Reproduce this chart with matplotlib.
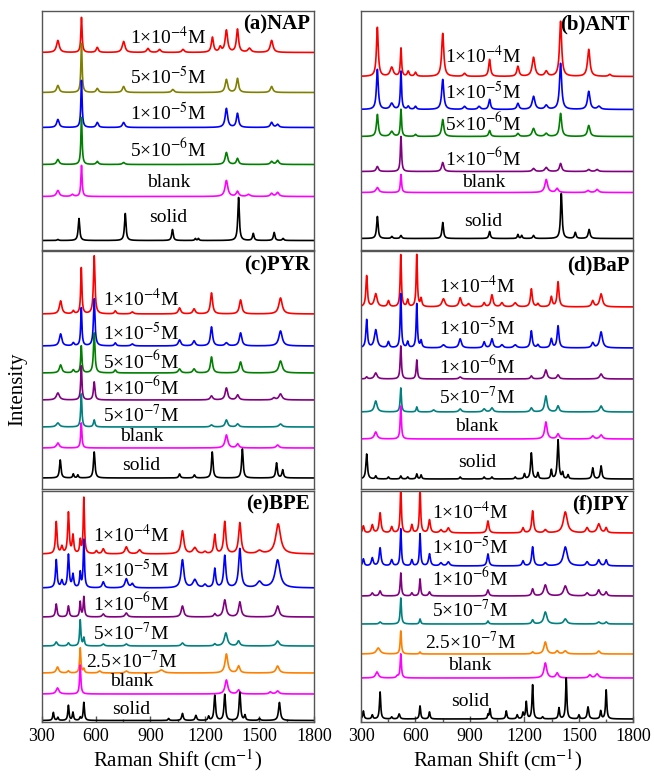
import numpy as np
import matplotlib
matplotlib.use('Agg')
import matplotlib.pyplot as plt

plt.rcParams['font.family'] = ['Liberation Serif', 'DejaVu Serif']
plt.rcParams['mathtext.fontset'] = 'stix'

# peak lists: (Raman shift, height, half width)
# heights/offsets are in pixel units of each panel

# (a) NAP
nap_labels = ['1×10$^{-4}$M', '5×10$^{-5}$M', '1×10$^{-5}$M', '5×10$^{-6}$M', 'blank', 'solid']
nap_colors = ['#ff0000', '#808000', '#0000ff', '#008000', '#ff00ff', '#000000']
nap_offsets = [197, 157, 122, 85, 53, 9]
nap_label_y = [212, 172, 136, 100, 67, 32]
nap_peaks = [
    [(390, 12, 9), (520, 35, 4), (607, 5, 7), (752, 11, 9), (886, 4, 8), (950, 3, 8), (1079, 3, 8),
     (1241, 15, 7), (1284, 5, 7), (1318, 22, 8), (1379, 23, 7), (1445, 4, 10), (1567, 12, 9)],
    [(390, 7, 8), (520, 49, 4), (607, 4, 7), (752, 6, 8), (1023, 3, 8), (1318, 13, 8), (1379, 14, 7),
     (1567, 6, 8)],
    [(390, 8, 8), (520, 47, 4), (607, 5, 7), (752, 5, 8), (1318, 19, 8), (1379, 14, 7), (1567, 5, 8),
     (1600, 3, 8)],
    [(390, 5, 8), (520, 47, 4), (607, 3, 7), (752, 2, 8), (1318, 12, 8), (1379, 6, 7), (1567, 3, 8),
     (1600, 4, 8)],
    [(390, 6, 9), (470, 2, 8), (520, 31, 4), (1318, 16, 9), (1379, 5, 8), (1440, 2, 10), (1567, 3, 8),
     (1600, 4, 9)],
    [(390, 1, 5), (506, 22, 5), (761, 27, 5), (1021, 11, 5), (1147, 2, 4), (1164, 2, 4), (1385, 43, 5),
     (1466, 7, 5), (1581, 8, 5), (1630, 2, 5)],
]

# (b) ANT
ant_labels = ['1×10$^{-4}$M', '1×10$^{-5}$M', '5×10$^{-6}$M', '1×10$^{-6}$M', 'blank', 'solid']
ant_colors = ['#ff0000', '#0000ff', '#008000', '#800080', '#ff00ff', '#000000']
ant_offsets = [173, 140, 113, 78, 57, 11]
ant_label_y = [193, 157, 126, 91, 67, 28]
ant_peaks = [
    [(390, 49, 6), (469, 9, 10), (520, 28, 4), (560, 5, 6), (600, 4, 6), (750, 43, 7), (870, 3, 8),
     (1008, 17, 6), (1164, 10, 7), (1250, 19, 9), (1320, 5, 9), (1399, 55, 7), (1554, 27, 8), (1670, 2, 8)],
    [(390, 40, 6), (469, 6, 10), (520, 38, 4), (560, 3, 6), (600, 3, 6), (750, 30, 7), (870, 3, 8),
     (950, 3, 8), (1008, 10, 6), (1164, 6, 7), (1250, 13, 9), (1320, 4, 9), (1399, 46, 7), (1554, 18, 8),
     (1610, 3, 10)],
    [(390, 22, 6), (469, 5, 10), (520, 27, 4), (600, 2, 6), (750, 17, 7), (1008, 6, 6), (1164, 3, 7),
     (1250, 8, 9), (1320, 3, 9), (1399, 23, 7), (1554, 11, 8)],
    [(390, 5, 7), (520, 35, 4), (750, 9, 7), (1250, 3, 8), (1320, 4, 9), (1399, 8, 7), (1554, 2, 8),
     (1600, 2, 8)],
    [(390, 5, 9), (520, 18, 4), (1320, 13, 9), (1380, 4, 8), (1550, 2, 8), (1600, 3, 9)],
    [(390, 22, 5), (470, 2, 5), (520, 3, 5), (750, 16, 5), (1008, 7, 5), (1164, 4, 4), (1185, 3, 4),
     (1250, 3, 5), (1403, 45, 5), (1480, 6, 5), (1556, 9, 6)],
]

# (c) PYR
pyr_labels = ['1×10$^{-4}$M', '1×10$^{-5}$M', '5×10$^{-6}$M', '1×10$^{-6}$M', '5×10$^{-7}$M', 'blank', 'solid']
pyr_colors = ['#ff0000', '#0000ff', '#008000', '#800080', '#008080', '#ff00ff', '#000000']
pyr_offsets = [175, 143, 116, 89, 62, 41, 11]
pyr_label_y = [190, 156, 128, 102, 74, 52, 23]
pyr_peaks = [
    [(405, 13, 8), (475, 3, 6), (519, 46, 4), (590, 58, 5), (706, 3, 6), (800, 2, 8), (1060, 6, 8),
     (1140, 5, 8), (1236, 21, 7), (1396, 14, 8), (1616, 16, 11)],
    [(405, 12, 8), (475, 3, 6), (519, 38, 4), (590, 47, 5), (706, 3, 6), (800, 2, 8), (1060, 6, 8),
     (1140, 5, 8), (1236, 19, 7), (1318, 3, 9), (1396, 13, 8), (1616, 15, 11)],
    [(405, 8, 8), (475, 3, 6), (519, 27, 4), (590, 40, 5), (706, 3, 6), (1060, 4, 8), (1140, 4, 8),
     (1236, 16, 7), (1396, 11, 8), (1616, 12, 11)],
    [(390, 7, 10), (519, 34, 4), (590, 18, 5), (1236, 4, 8), (1318, 12, 8), (1380, 5, 8), (1580, 2, 8),
     (1616, 6, 10)],
    [(390, 4, 10), (519, 33, 4), (590, 7, 5), (1236, 2, 8), (1318, 7, 8), (1380, 3, 8), (1616, 3, 10)],
    [(390, 5, 9), (519, 25, 4), (1318, 13, 9), (1380, 4, 8), (1600, 3, 9)],
    [(403, 18, 5), (475, 4, 4), (500, 3, 4), (590, 26, 5), (1060, 4, 5), (1142, 3, 5), (1240, 26, 5),
     (1406, 29, 5), (1594, 15, 5), (1628, 8, 5)],
]

# (d) BaP
bap_labels = ['1×10$^{-4}$M', '1×10$^{-5}$M', '1×10$^{-6}$M', '5×10$^{-7}$M', 'blank', 'solid']
bap_colors = ['#ff0000', '#0000ff', '#800080', '#008080', '#ff00ff', '#000000']
bap_offsets = [182, 141, 110, 77, 50, 10]
bap_label_y = [203, 161, 123, 92, 62, 26]
bap_peaks = [
    [(331, 31, 5), (381, 13, 9), (451, 6, 6), (519, 52, 4), (557, 7, 5), (607, 52, 4), (631, 8, 5),
     (754, 8, 10), (846, 9, 8), (892, 3, 8), (978, 4, 6), (1021, 12, 7), (1076, 4, 8), (1149, 4, 10),
     (1238, 18, 6), (1274, 3, 6), (1348, 10, 6), (1385, 25, 6), (1576, 6, 7), (1622, 13, 9)],
    [(331, 28, 5), (381, 18, 9), (451, 6, 6), (519, 54, 4), (557, 6, 5), (607, 44, 4), (631, 7, 5),
     (754, 3, 10), (846, 9, 8), (978, 6, 6), (1021, 9, 7), (1076, 3, 8), (1149, 3, 10), (1238, 17, 6),
     (1274, 3, 6), (1348, 9, 6), (1385, 22, 6), (1576, 5, 7), (1622, 16, 9)],
    [(331, 2, 5), (381, 6, 9), (519, 33, 4), (607, 19, 4), (846, 2, 8), (1238, 3, 6), (1318, 9, 8),
     (1385, 4, 7), (1622, 5, 9)],
    [(381, 11, 9), (519, 24, 4), (607, 5, 4), (700, 2, 8), (846, 3, 8), (978, 3, 8), (1021, 4, 8),
     (1238, 4, 7), (1318, 16, 8), (1385, 6, 7), (1622, 6, 9)],
    [(381, 7, 9), (519, 33, 4), (1318, 17, 8), (1385, 5, 8), (1576, 3, 8), (1622, 4, 9)],
    [(331, 25, 5), (381, 3, 4), (451, 2, 4), (519, 3, 4), (557, 2, 4), (607, 5, 4), (631, 4, 4),
     (846, 2, 4), (978, 2, 4), (1021, 2, 4), (1149, 2, 4), (1200, 5, 4), (1238, 26, 5), (1274, 6, 4),
     (1348, 9, 4), (1385, 39, 5), (1410, 6, 4), (1440, 4, 4), (1576, 11, 5), (1622, 13, 5)],
]

# (e) BPE
bpe_labels = ['1×10$^{-4}$M', '1×10$^{-5}$M', '1×10$^{-6}$M', '5×10$^{-7}$M', '2.5×10$^{-7}$M', 'blank', 'solid']
bpe_colors = ['#ff0000', '#0000ff', '#800080', '#008080', '#ff8000', '#ff00ff', '#000000']
bpe_offsets = [168, 134, 105, 76, 49, 28, 1.5]
bpe_label_y = [187, 152, 119, 89, 61, 40, 12]
bpe_peaks = [
    [(381, 32, 5), (412, 7, 6), (448, 41, 5), (473, 18, 5), (513, 13, 4), (533, 56, 4), (602, 3, 6),
     (640, 5, 7), (767, 7, 9), (840, 4, 10), (1076, 23, 9), (1144, 6, 12), (1200, 2, 8), (1254, 19, 6),
     (1309, 32, 7), (1392, 31, 8), (1500, 3, 15), (1603, 30, 16)],
    [(381, 28, 5), (412, 7, 6), (448, 33, 5), (473, 13, 5), (513, 15, 4), (533, 48, 4), (640, 6, 7),
     (767, 9, 9), (800, 4, 8), (1076, 28, 9), (1144, 8, 12), (1200, 3, 8), (1254, 19, 6), (1309, 32, 7),
     (1392, 39, 8), (1500, 6, 15), (1600, 28, 16)],
    [(381, 13, 5), (448, 11, 5), (513, 15, 4), (533, 20, 4), (640, 3, 7), (767, 4, 8), (1076, 11, 8),
     (1254, 3, 6), (1309, 17, 9), (1392, 15, 8), (1600, 11, 10)],
    [(381, 4, 7), (448, 3, 6), (513, 26, 4), (533, 8, 4), (640, 2, 7), (767, 2, 8), (1076, 3, 8),
     (1254, 2, 6), (1315, 13, 10), (1385, 5, 8), (1600, 5, 10)],
    [(388, 6, 8), (448, 2, 6), (513, 25, 4), (533, 4, 4), (620, 2, 8), (767, 2, 8), (960, 3, 15),
     (1318, 19, 9), (1385, 7, 8), (1600, 7, 10)],
    [(388, 6, 9), (513, 29, 4), (1318, 14, 9), (1385, 4, 8), (1560, 2, 8), (1600, 3, 9)],
    [(365, 8, 4), (390, 3, 4), (448, 15, 4), (473, 8, 4), (513, 3, 4), (533, 18, 4), (1000, 2, 4),
     (1076, 7, 5), (1150, 5, 5), (1220, 4, 4), (1254, 25, 5), (1309, 26, 5), (1392, 28, 5), (1420, 5, 4),
     (1500, 2, 5), (1610, 18, 6)],
]

# (f) IPY
ipy_labels = ['1×10$^{-4}$M', '1×10$^{-5}$M', '1×10$^{-6}$M', '5×10$^{-7}$M', '2.5×10$^{-7}$M', 'blank', 'solid']
ipy_colors = ['#ff0000', '#0000ff', '#800080', '#008080', '#ff8000', '#ff00ff', '#000000']
ipy_offsets = [189, 156, 126, 98, 68, 44, 3]
ipy_label_y = [210, 175, 144, 112, 80, 56, 20]
ipy_peaks = [
    [(313, 7, 5), (362, 8, 6), (405, 20, 6), (469, 6, 6), (519, 45, 4), (580, 8, 5), (625, 45, 4),
     (677, 13, 6), (740, 3, 8), (781, 5, 8), (999, 12, 6), (1192, 5, 6), (1245, 22, 6), (1315, 3, 8),
     (1425, 21, 13), (1545, 5, 8), (1609, 9, 10), (1650, 5, 6)],
    [(313, 7, 5), (362, 8, 6), (405, 18, 6), (469, 6, 6), (519, 37, 4), (580, 6, 5), (625, 32, 4),
     (677, 12, 6), (740, 3, 8), (781, 4, 8), (999, 12, 6), (1192, 5, 6), (1245, 19, 6), (1315, 3, 8),
     (1425, 19, 13), (1545, 4, 8), (1609, 6, 8), (1650, 6, 6)],
    [(362, 3, 6), (405, 5, 6), (519, 23, 4), (580, 3, 5), (625, 17, 4), (677, 4, 6), (999, 6, 6),
     (1245, 7, 6), (1315, 11, 10), (1425, 10, 11), (1545, 3, 8), (1609, 6, 8), (1650, 4, 6)],
    [(405, 2, 6), (519, 26, 4), (625, 5, 4), (999, 3, 5), (1245, 4, 6), (1315, 12, 10), (1425, 5, 10),
     (1609, 2, 8), (1650, 2, 6)],
    [(395, 6, 12), (519, 23, 4), (625, 2, 4), (1245, 2, 6), (1315, 12, 9), (1380, 3, 8), (1425, 3, 10),
     (1609, 3, 8)],
    [(388, 6, 9), (500, 2, 6), (519, 24, 4), (1315, 15, 9), (1380, 5, 8), (1560, 3, 8), (1600, 4, 10)],
    [(313, 8, 4), (362, 4, 4), (405, 27, 4), (469, 2, 4), (510, 5, 5), (625, 13, 4), (677, 7, 4),
     (999, 4, 3), (1010, 10, 4), (1100, 8, 4), (1160, 4, 4), (1192, 6, 4), (1210, 17, 4), (1245, 34, 4),
     (1300, 2, 4), (1390, 11, 4), (1430, 41, 4), (1500, 4, 4), (1550, 12, 5), (1620, 8, 4), (1650, 29, 4)],
]

shift = np.linspace(300, 1800, 3001)


def spectrum(peaks, offset):
    y = np.full_like(shift, offset, dtype=float)
    for pos, h, w in peaks:
        y += h * w ** 2 / ((shift - pos) ** 2 + w ** 2)
    return y


fig = plt.figure(figsize=(6.54, 7.78), dpi=100)

# axes boxes in figure fractions (left, bottom, width, height)
left_x, right_x, col_w = 0.0635, 0.552, 0.4165
rows = [(0.6793, 0.3066), (0.3715, 0.3053), (0.0720, 0.2969)]
row_px = [238.5, 237.5, 231]

panels = [
    ('(a)NAP', nap_labels, nap_colors, nap_offsets, nap_label_y, nap_peaks, 0, left_x, 1000),
    ('(b)ANT', ant_labels, ant_colors, ant_offsets, ant_label_y, ant_peaks, 0, right_x, 975),
    ('(c)PYR', pyr_labels, pyr_colors, pyr_offsets, pyr_label_y, pyr_peaks, 1, left_x, 850),
    ('(d)BaP', bap_labels, bap_colors, bap_offsets, bap_label_y, bap_peaks, 1, right_x, 938),
    ('(e)BPE', bpe_labels, bpe_colors, bpe_offsets, bpe_label_y, bpe_peaks, 2, left_x, 795),
    ('(f)IPY', ipy_labels, ipy_colors, ipy_offsets, ipy_label_y, ipy_peaks, 2, right_x, 901),
]

for title, labels, colors, offsets, label_y, peaks, r, x0, lx in panels:
    ax = fig.add_axes([x0, rows[r][0], col_w, rows[r][1]])
    for lab, c, off, ly, pk in zip(labels, colors, offsets, label_y, peaks):
        ax.plot(shift, spectrum(pk, off), color=c, linewidth=1.2)
        ax.text(lx, ly, lab, ha='center', va='center', fontsize=14)
    ax.text(0.985, 0.985, title, transform=ax.transAxes, ha='right', va='top',
            fontsize=15, fontweight='bold')
    ax.set_xlim(300, 1800)
    ax.set_ylim(0, row_px[r])
    ax.set_yticks([])
    for s in ax.spines.values():
        s.set_color('#555555')
        s.set_linewidth(1.0)
    if r == 2:
        ax.set_xticks([300, 600, 900, 1200, 1500, 1800])
        ax.set_xticks(np.arange(450, 1800, 300), minor=True)
        ax.tick_params(axis='x', which='major', direction='in', length=4, width=1,
                       color='#555555', labelsize=13, pad=4)
        ax.tick_params(axis='x', which='minor', direction='in', length=2.5, width=1, color='#555555')
        ax.set_xlabel('Raman Shift (cm$^{-1}$)', fontsize=15, labelpad=2)
    else:
        ax.set_xticks([])

fig.text(0.027, 0.5, 'Intensity', rotation=90, ha='center', va='center', fontsize=15)

fig.savefig('out.png', dpi=100)
